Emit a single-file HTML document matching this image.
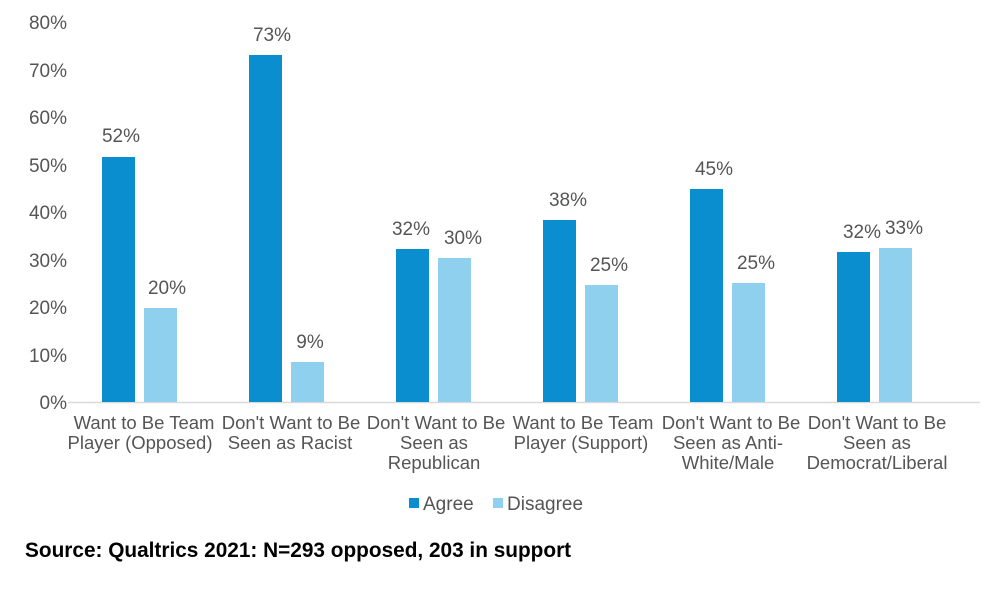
<!DOCTYPE html>
<html><head><style>
body{margin:0;background:#fff;}
svg text{font-family:"Liberation Sans",Arial,sans-serif;fill:#555;}
</style></head><body>
<svg width="1002" height="586" xmlns="http://www.w3.org/2000/svg">
<g font-size="19" text-anchor="end">
<text x="67" y="409">0%</text>
<text x="67" y="362">10%</text>
<text x="67" y="314">20%</text>
<text x="67" y="267">30%</text>
<text x="67" y="219">40%</text>
<text x="67" y="172">50%</text>
<text x="67" y="124">60%</text>
<text x="67" y="77">70%</text>
<text x="67" y="29">80%</text>
</g>
<line x1="68" y1="402.5" x2="980" y2="402.5" stroke="#d9d9d9" stroke-width="1.5"/>
<g fill="#0a8ecf">
<rect x="102" y="157" width="33" height="245"/>
<rect x="249" y="55" width="33" height="347"/>
<rect x="396" y="249" width="33" height="153"/>
<rect x="543" y="220" width="33" height="182"/>
<rect x="690" y="189" width="33" height="213"/>
<rect x="837" y="252" width="33" height="150"/>
</g>
<g fill="#8fd0ee">
<rect x="144" y="308" width="33" height="94"/>
<rect x="291" y="362" width="33" height="40"/>
<rect x="438" y="258" width="33" height="144"/>
<rect x="585" y="285" width="33" height="117"/>
<rect x="732" y="283" width="33" height="119"/>
<rect x="879" y="248" width="33" height="154"/>
</g>
<g font-size="19" text-anchor="middle">
<text x="121" y="142">52%</text>
<text x="167" y="294">20%</text>
<text x="272" y="41">73%</text>
<text x="310" y="348">9%</text>
<text x="411" y="235">32%</text>
<text x="463" y="244">30%</text>
<text x="568" y="206">38%</text>
<text x="609" y="271">25%</text>
<text x="714" y="175">45%</text>
<text x="756" y="269">25%</text>
<text x="862" y="238">32%</text>
<text x="904" y="234">33%</text>
</g>
<g font-size="18.5" text-anchor="middle">
<text x="144" y="429">Want to Be Team</text><text x="140" y="449">Player (Opposed)</text>
<text x="291" y="429">Don't Want to Be</text><text x="290" y="449">Seen as Racist</text>
<text x="436" y="429">Don't Want to Be</text><text x="434" y="449">Seen as</text><text x="434" y="469">Republican</text>
<text x="583" y="429">Want to Be Team</text><text x="581" y="449">Player (Support)</text>
<text x="731" y="429">Don't Want to Be</text><text x="728" y="449">Seen as Anti-</text><text x="728" y="469">White/Male</text>
<text x="877" y="429">Don't Want to Be</text><text x="877" y="449">Seen as</text><text x="877" y="469">Democrat/Liberal</text>
</g>
<rect x="409" y="498" width="10" height="10" fill="#0a8ecf"/>
<text x="423" y="510" font-size="19">Agree</text>
<rect x="493" y="498" width="10" height="10" fill="#8fd0ee"/>
<text x="507" y="510" font-size="19">Disagree</text>
<text x="25" y="557" font-size="20.8" font-weight="bold" style="fill:#000">Source: Qualtrics 2021: N=293 opposed, 203 in support</text>
</svg>
</body></html>
